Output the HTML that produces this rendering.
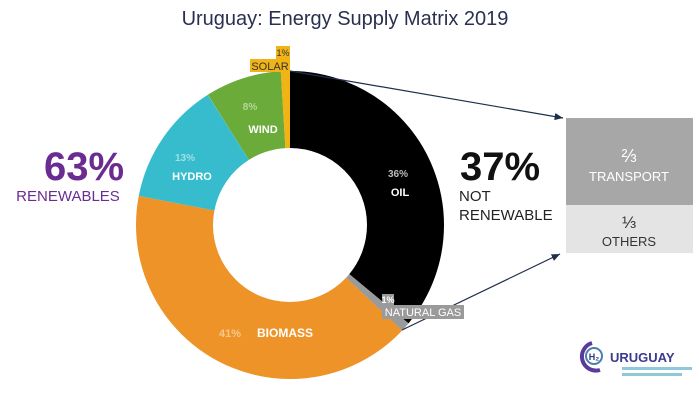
<!DOCTYPE html>
<html><head><style>
html,body{margin:0;padding:0;background:#fff;}
svg{display:block;font-family:"Liberation Sans",sans-serif;}
</style></head><body>
<svg width="699" height="414" viewBox="0 0 699 414" xmlns="http://www.w3.org/2000/svg">
<defs><marker id="ar" markerWidth="8" markerHeight="8" refX="7" refY="4" orient="auto"><path d="M0,1 L7,4 L0,7 z" fill="#1f2e4a"/></marker></defs>
<text x="345" y="25" text-anchor="middle" font-size="20" fill="#2a3050">Uruguay: Energy Supply Matrix 2019</text>
<g transform="rotate(-90 290 225)" fill="none" stroke-width="77">
<circle cx="290" cy="225" r="115.5" stroke="#000" stroke-dasharray="261.3 1000" stroke-dashoffset="0"/>
<circle cx="290" cy="225" r="115.5" stroke="#9a9a9a" stroke-dasharray="7.3 1000" stroke-dashoffset="-261.3"/>
<circle cx="290" cy="225" r="115.5" stroke="#ee9327" stroke-dasharray="297.5 1000" stroke-dashoffset="-268.5"/>
<circle cx="290" cy="225" r="115.5" stroke="#36bccc" stroke-dasharray="94.3 1000" stroke-dashoffset="-566"/>
<circle cx="290" cy="225" r="115.5" stroke="#6aab3a" stroke-dasharray="58.1 1000" stroke-dashoffset="-660.4"/>
<circle cx="290" cy="225" r="115.5" stroke="#f0b417" stroke-dasharray="7.3 1000" stroke-dashoffset="-718.4"/>
</g>
<line x1="290" y1="71" x2="563" y2="118" stroke="#1f2e4a" stroke-width="1.2" marker-end="url(#ar)"/>
<line x1="402" y1="330" x2="560" y2="254" stroke="#1f2e4a" stroke-width="1.2" marker-end="url(#ar)"/>
<g font-weight="bold" font-size="11" fill="#fff" text-anchor="middle">
<text x="250" y="110" fill="#b6d69a" font-size="10">8%</text>
<text x="263" y="133">WIND</text>
<text x="185" y="161" fill="#9fe0e6" font-size="10">13%</text>
<text x="192" y="180">HYDRO</text>
<text x="398" y="177" fill="#bbb" font-size="10">36%</text>
<text x="400" y="196">OIL</text>
<text x="230" y="337" fill="#f6c98e">41%</text>
<text x="285" y="337" font-size="12">BIOMASS</text>
</g>
<rect x="250" y="59" width="40" height="13" fill="#f0b417"/>
<rect x="276" y="46" width="14" height="13" fill="#f0b417"/>
<text x="283" y="56" font-size="9" text-anchor="middle" fill="#333">1%</text>
<text x="270" y="70" font-size="11" text-anchor="middle" fill="#333">SOLAR</text>
<rect x="382" y="294" width="12" height="11" fill="#9a9a9a"/>
<rect x="382" y="305" width="82" height="14" fill="#9a9a9a"/>
<text x="388" y="303" font-size="9" font-weight="bold" text-anchor="middle" fill="#fff">1%</text>
<text x="423" y="316" font-size="11" text-anchor="middle" fill="#fff">NATURAL GAS</text>
<text x="84" y="180" font-size="40" font-weight="bold" text-anchor="middle" fill="#6b2c91">63%</text>
<text x="68" y="201" font-size="15" text-anchor="middle" fill="#6b2c91">RENEWABLES</text>
<text x="500" y="180" font-size="40" font-weight="bold" text-anchor="middle" fill="#111">37%</text>
<text x="459" y="201" font-size="15" fill="#222">NOT</text>
<text x="459" y="220" font-size="15" fill="#222">RENEWABLE</text>
<rect x="566" y="118" width="127" height="87" fill="#a7a7a7"/>
<rect x="566" y="205" width="127" height="48" fill="#e4e4e4"/>
<text x="629" y="162" font-size="18" text-anchor="middle" fill="#fff">⅔</text>
<text x="629" y="181" font-size="13" text-anchor="middle" fill="#fff">TRANSPORT</text>
<text x="629" y="228" font-size="17" text-anchor="middle" fill="#333">⅓</text>
<text x="629" y="246" font-size="13" text-anchor="middle" fill="#333">OTHERS</text>
<path d="M592,343 A14,14 0 1 0 600,370" fill="none" stroke="#5a3a9a" stroke-width="4"/>
<circle cx="594" cy="356" r="8" fill="none" stroke="#4a7fb0" stroke-width="2"/>
<text x="594" y="360" font-size="9" font-weight="bold" text-anchor="middle" fill="#2a3a80">H₂</text>
<text x="610" y="362" font-size="13" font-weight="bold" fill="#3a3a90">URUGUAY</text>
<rect x="622" y="367" width="70" height="3" fill="#8fc8d8"/>
<rect x="622" y="373" width="60" height="3" fill="#8fc8d8"/>
</svg>
</body></html>
